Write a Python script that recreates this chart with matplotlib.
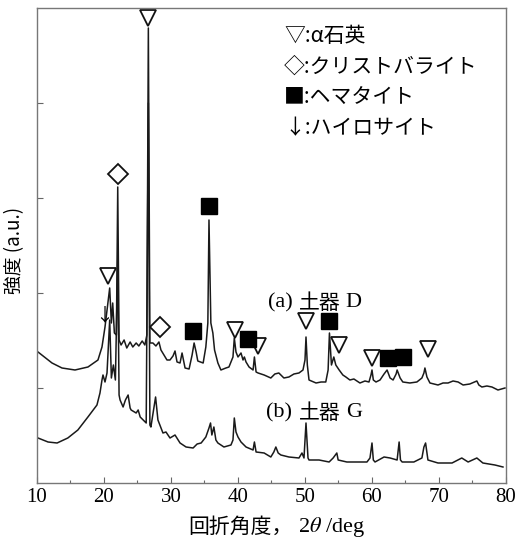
import numpy as np
import matplotlib
matplotlib.use("Agg")
import matplotlib.pyplot as plt

plt.rcParams['mathtext.fontset'] = 'stix'
jp = ['Noto Sans CJK JP', 'DejaVu Sans']
serif = ['Liberation Serif', 'DejaVu Serif']

# (a) 土器 D : 2θ / 強度
two_theta_a = [10.15, 12.24, 13.73, 15.67, 17.61, 19.10, 19.70, 20.15, 20.45, 20.85,
               21.1, 21.3, 21.55, 21.85, 22.05, 22.25, 22.55, 23.0, 23.4, 23.9,
               24.3, 24.8, 25.2, 25.7, 26.1, 26.4, 26.62, 26.85, 27.3, 27.75,
               28.2, 28.5, 28.95, 29.4, 29.85, 30.3, 30.6, 30.9, 31.35, 31.65,
               32.1, 32.7, 33.15, 33.45, 33.75, 34.0, 34.8, 35.2, 35.5, 35.67,
               35.95, 36.25, 36.5, 37.0, 37.45, 38.2, 38.65, 39.25, 39.45, 39.7,
               40.0, 40.45, 40.75, 40.95, 41.2, 41.65, 42.25, 42.45, 42.7, 43.0,
               43.9, 44.9, 45.5, 46.1, 46.85, 47.6, 48.35, 49.1, 49.7, 50.0,
               50.15, 50.35, 50.6, 51.65, 52.4, 53.1, 53.45, 53.65, 53.95, 54.3,
               54.6, 55.1, 55.65, 56.1, 56.7, 57.3, 58.2, 58.95, 59.55, 59.85,
               60.0, 60.2, 60.6, 61.2, 61.8, 62.25, 62.7, 63.15, 63.6, 63.75,
               64.2, 64.6, 65.65, 66.7, 67.45, 67.75, 67.9, 68.2, 68.65, 69.85,
               70.6, 71.35, 72.1, 72.85, 73.6, 74.6, 75.65, 75.95, 76.4, 77.15,
               77.9, 78.8, 79.85]
intensity_a = [131, 120, 115, 113, 116, 123, 136, 156, 173, 195,
               160, 180, 150, 148, 296, 143, 138, 143, 135, 141,
               136, 140, 137, 142, 138, 148, 455, 140, 140, 137,
               141, 133, 128, 123, 123, 127, 132, 121, 120, 130,
               115, 114, 128, 140, 131, 122, 120, 136, 160, 263,
               160, 150, 133, 120, 113, 115, 116, 126, 145, 131,
               126, 130, 123, 126, 121, 116, 113, 126, 111, 110,
               108, 105, 109, 110, 105, 106, 109, 110, 113, 123,
               146, 118, 103, 100, 101, 101, 113, 150, 118, 126,
               118, 113, 108, 106, 103, 104, 100, 102, 101, 108,
               113, 103, 101, 103, 109, 113, 105, 103, 109, 113,
               105, 101, 100, 101, 105, 110, 115, 106, 100, 98,
               100, 100, 102, 101, 98, 99, 102, 98, 96, 97,
               96, 93, 95]

# (b) 土器 G
two_theta_b = [10.15, 11.65, 13.0, 14.6, 16.1, 17.6, 18.95, 19.4, 19.7, 19.85,
               20.15, 20.45, 20.85, 21.1, 21.4, 21.7, 22.05, 22.25, 22.4, 22.85,
               23.2, 23.6, 23.9, 24.05, 24.8, 25.1, 25.4, 25.85, 26.3, 26.62,
               26.85, 27.0, 27.7, 28.05, 28.8, 29.25, 29.85, 30.6, 31.35, 32.25,
               33.3, 33.9, 34.5, 35.2, 35.67, 35.9, 36.1, 36.4, 36.7, 37.0,
               37.9, 38.95, 39.25, 39.45, 39.7, 40.0, 40.45, 41.2, 42.25, 42.45,
               42.7, 43.9, 44.9, 45.35, 45.65, 46.0, 46.4, 47.6, 49.1, 49.55,
               49.85, 50.15, 50.45, 50.6, 52.1, 53.6, 54.2, 54.75, 54.95, 56.25,
               57.75, 59.25, 59.7, 60.0, 60.2, 60.45, 61.8, 62.7, 63.75, 64.05,
               64.25, 64.5, 66.25, 67.45, 67.75, 68.0, 68.35, 69.85, 71.95, 73.4,
               74.35, 75.65, 76.55, 78.35, 79.55]
intensity_b = [45, 41, 40, 45, 53, 66, 78, 90, 103, 108,
               101, 110, 163, 105, 118, 103, 223, 88, 83, 76,
               83, 88, 75, 73, 70, 73, 66, 63, 60, 380,
               58, 56, 86, 63, 50, 51, 45, 48, 40, 36,
               35, 39, 40, 46, 55, 60, 48, 56, 43, 40,
               36, 38, 43, 65, 51, 46, 41, 36, 33, 41,
               31, 30, 26, 31, 36, 30, 28, 26, 25, 30,
               25, 60, 25, 23, 23, 21, 25, 30, 23, 21,
               21, 21, 25, 40, 23, 21, 26, 25, 23, 41,
               23, 21, 21, 25, 36, 40, 23, 20, 20, 25,
               21, 25, 20, 18, 16]

# 同定ピークの記号
quartz_x = [20.6, 26.62, 39.55, 43.0, 50.15, 55.1, 60.0, 68.35]
quartz_y = [207, 465, 153, 137, 162, 138, 125, 134]
cristobalite_x = [22.1, 28.35]
cristobalite_y = [309, 156]
hematite_x = [33.3, 35.67, 41.5, 53.6, 62.4, 64.6]
hematite_y = [152, 277, 144, 162, 125, 126]
halloysite_x = [20.0]
halloysite_y = [168]

legend_lines = ["▽:α石英", "◇:クリストバライト", "■:ヘマタイト", "↓:ハイロサイト"]

fig = plt.figure(figsize=(5.16, 5.39), dpi=100)
ax = fig.add_axes([0.0717, 0.1039, 0.9089, 0.8813])

ax.plot(two_theta_a, intensity_a, color='#1a1a1a', lw=1.1)
ax.plot(two_theta_b, intensity_b, color='#1a1a1a', lw=1.1)

ax.plot(quartz_x, quartz_y, 'v', ms=12, mfc='white', mec='#111111', mew=1.3, ls='none')
ax.plot(cristobalite_x, cristobalite_y, 'D', ms=10, mfc='white', mec='#111111', mew=1.3, ls='none')
ax.plot(hematite_x, hematite_y, 's', ms=11.5, mfc='black', mec='black', ls='none')
for x, y in zip(halloysite_x, halloysite_y):
    ax.text(x, y, "↓", family=jp, fontsize=13, ha='center', va='center')

ax.text(48.1, 180, "(a)", family=serif, fontsize=16, ha='right', va='center')
ax.text(49.1, 180, "土器", family=jp, fontsize=15, ha='left', va='center')
ax.text(56.1, 180, "D", family=serif, fontsize=16, ha='left', va='center')
ax.text(48.1, 70, "(b)", family=serif, fontsize=16, ha='right', va='center')
ax.text(49.1, 70, "土器", family=jp, fontsize=15, ha='left', va='center')
ax.text(56.1, 70, "G", family=serif, fontsize=16, ha='left', va='center')

for i, s in enumerate(legend_lines):
    ax.text(46.9, 447 - i * 30.8, s, family=jp, fontsize=15, ha='left', va='center')

ax.set_xlim(10, 80)
ax.set_ylim(0, 475)
ax.set_xticks(np.arange(10, 81, 10))
ax.set_xticks(np.arange(15, 80, 10), minor=True)
ax.set_yticks([95, 190, 285, 380])
ax.set_yticklabels([])
ax.tick_params(direction='in', length=4, width=0.8, color='#666666', labelsize=15)
ax.tick_params(which='minor', direction='in', length=2.5, width=0.8, color='#666666')
for lab in ax.get_xticklabels():
    lab.set_family(serif)
for sp in ax.spines.values():
    sp.set_color('#777777')
    sp.set_linewidth(1.0)

fig.text(293 / 516, 1 - 527 / 539, "回折角度，", family=jp, fontsize=15, ha='right', va='center')
fig.text(298 / 516, 1 - 527 / 539, r"2$\theta$ /deg", family=serif, fontsize=16, ha='left', va='center')
fig.text(15 / 516, 1 - 250 / 539, "強度 (a.u.)", family=jp, fontsize=13.5, rotation=90, ha='center', va='center')

fig.savefig("out.png", dpi=100)
